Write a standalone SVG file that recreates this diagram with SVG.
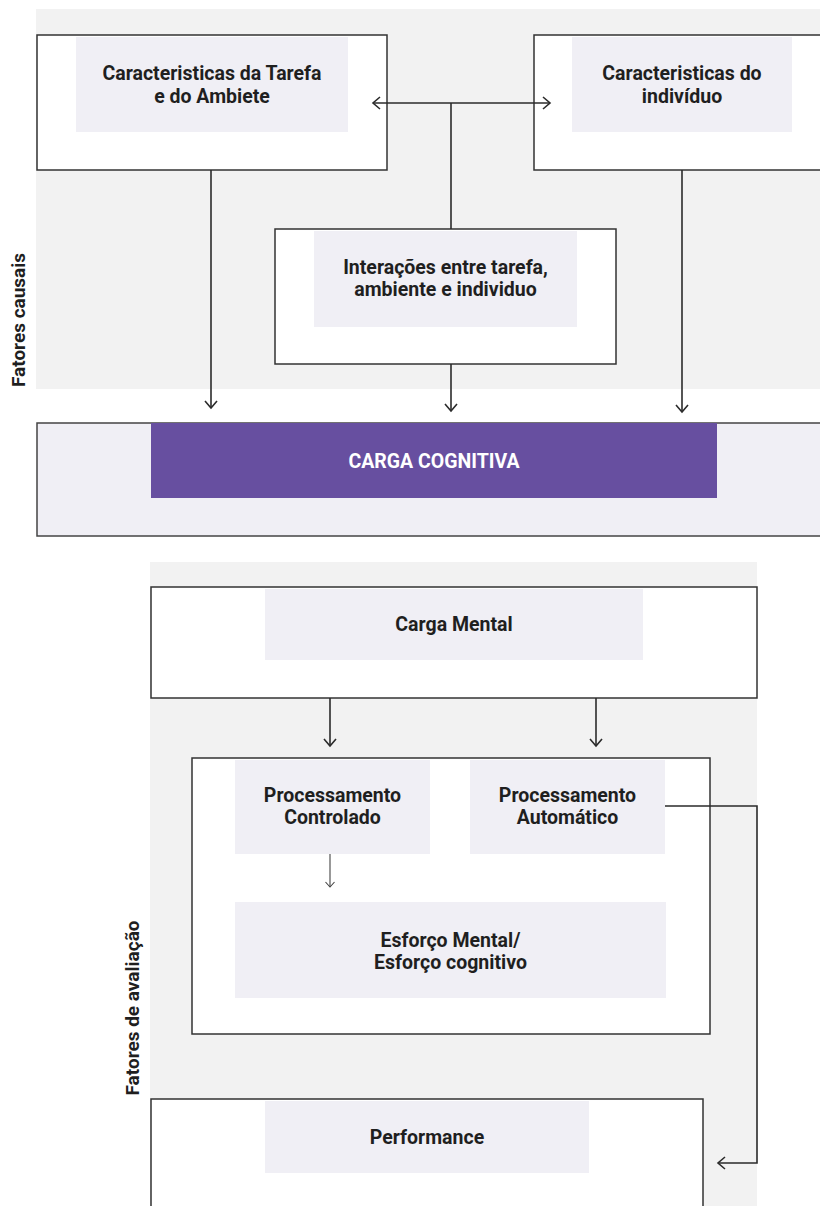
<svg xmlns="http://www.w3.org/2000/svg" width="820" height="1206" viewBox="0 0 820 1206">
  <defs>
    <style>
      .band { fill: #f2f2f2; }
      .box { fill: #ffffff; stroke: #333333; stroke-width: 1.5; }
      .tag { fill: #f0eff5; }
      .lbl { font-family: Roboto, "Liberation Sans", sans-serif; font-weight: 700; font-size: 19.5px; fill: #1f1f1f; text-anchor: middle; }
      .side { font-family: Roboto, "Liberation Sans", sans-serif; font-weight: 700; font-size: 19px; fill: #1f1f1f; text-anchor: middle; }
      .wire { fill: none; stroke: #2b2b2b; stroke-width: 1.6; }
      .thin { fill: none; stroke: #444444; stroke-width: 1.1; }
    </style>
    <marker id="head" markerUnits="userSpaceOnUse" markerWidth="14" markerHeight="16" refX="8" refY="7" orient="auto-start-reverse">
      <path d="M1,1 L8,7 L1,13" fill="none" stroke="#2b2b2b" stroke-width="1.6"/>
    </marker>
    <marker id="headSmall" markerUnits="userSpaceOnUse" markerWidth="12" markerHeight="12" refX="6" refY="5" orient="auto-start-reverse">
      <path d="M1,0.5 L6,5 L1,9.5" fill="none" stroke="#444444" stroke-width="1.1"/>
    </marker>
  </defs>

  <!-- background bands -->
  <rect class="band" x="36" y="9" width="784" height="380"/>
  <rect class="band" x="150" y="562" width="607" height="644"/>

  <!-- side labels -->
  <text class="side" transform="translate(25,320) rotate(-90)">Fatores causais</text>
  <text class="side" transform="translate(139,1008) rotate(-90)">Fatores de avaliação</text>

  <!-- causal factors -->
  <g id="tarefa">
    <rect class="box" x="37" y="35" width="350" height="135"/>
    <rect class="tag" x="76" y="37" width="272" height="95"/>
    <text class="lbl" x="212" y="80">Caracteristicas da Tarefa</text>
    <text class="lbl" x="212" y="103">e do Ambiete</text>
  </g>

  <g id="individuo">
    <rect class="box" x="534" y="35" width="300" height="135"/>
    <rect class="tag" x="572" y="37" width="220" height="95"/>
    <text class="lbl" x="682" y="80">Caracteristicas do</text>
    <text class="lbl" x="682" y="103">indivíduo</text>
  </g>

  <g id="interacoes">
    <rect class="box" x="275" y="229" width="341" height="135"/>
    <rect class="tag" x="314" y="231" width="263" height="96"/>
    <text class="lbl" x="445.5" y="274">Interações entre tarefa,</text>
    <text class="lbl" x="445.5" y="296">ambiente e individuo</text>
  </g>

  <g id="carga-cognitiva">
    <rect x="37" y="423" width="800" height="113" fill="#f0eff5" stroke="#444444" stroke-width="1.5"/>
    <rect x="151" y="423" width="566" height="75" fill="#674fa0"/>
    <text class="lbl" x="434" y="468" style="fill:#ffffff">CARGA COGNITIVA</text>
  </g>

  <!-- evaluation factors -->
  <g id="carga-mental">
    <rect class="box" x="151" y="587" width="606" height="111"/>
    <rect class="tag" x="265" y="589" width="378" height="71"/>
    <text class="lbl" x="454" y="631">Carga Mental</text>
  </g>

  <g id="processamento">
    <rect class="box" x="192" y="758" width="518" height="276"/>
  </g>

  <g id="controlado">
    <rect class="tag" x="235" y="760" width="195" height="94"/>
    <text class="lbl" x="332.5" y="802">Processamento</text>
    <text class="lbl" x="332.5" y="824">Controlado</text>
  </g>

  <g id="automatico">
    <rect class="tag" x="470" y="760" width="195" height="94"/>
    <text class="lbl" x="567.5" y="802">Processamento</text>
    <text class="lbl" x="567.5" y="824">Automático</text>
  </g>

  <g id="esforco">
    <rect class="tag" x="235" y="902" width="431" height="96"/>
    <text class="lbl" x="450.5" y="947">Esforço Mental/</text>
    <text class="lbl" x="450.5" y="969">Esforço cognitivo</text>
  </g>

  <g id="performance">
    <rect class="box" x="151" y="1099" width="552" height="120"/>
    <rect class="tag" x="265" y="1101" width="324" height="72"/>
    <text class="lbl" x="427" y="1144">Performance</text>
  </g>

  <!-- connectors -->
  <g id="connectors">
    <line class="wire" x1="373" y1="103" x2="550" y2="103" marker-start="url(#head)" marker-end="url(#head)"/>
    <line class="wire" x1="451" y1="103" x2="451" y2="229"/>
    <line class="wire" x1="211" y1="170" x2="211" y2="408" marker-end="url(#head)"/>
    <line class="wire" x1="451" y1="364" x2="451" y2="411" marker-end="url(#head)"/>
    <line class="wire" x1="682" y1="170" x2="682" y2="412" marker-end="url(#head)"/>
    <line class="wire" x1="330" y1="698" x2="330" y2="746" marker-end="url(#head)"/>
    <line class="wire" x1="596" y1="698" x2="596" y2="746" marker-end="url(#head)"/>
    <line class="thin" x1="330" y1="854" x2="330" y2="887" marker-end="url(#headSmall)"/>
    <polyline class="wire" points="665,806 757,806 757,1163 718,1163" marker-end="url(#head)"/>
  </g>
</svg>
